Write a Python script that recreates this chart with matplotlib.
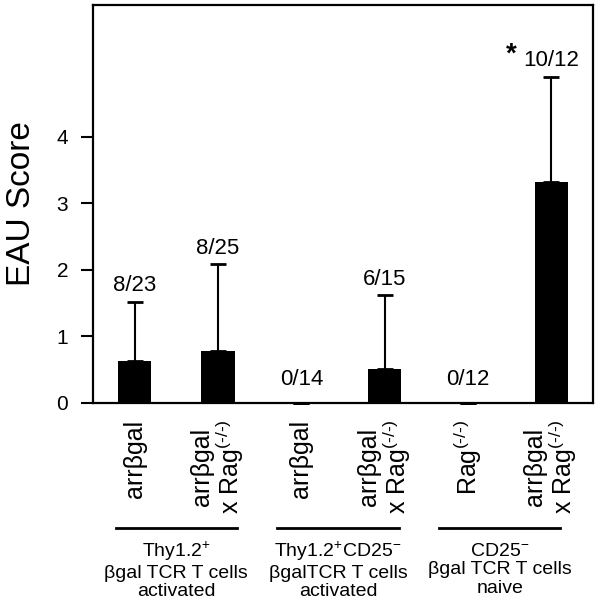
import matplotlib
matplotlib.use("Agg")
import matplotlib.pyplot as plt
from matplotlib.lines import Line2D

plt.rcParams['font.family'] = ['Liberation Sans', 'DejaVu Sans']
plt.rcParams['mathtext.default'] = 'regular'

# data
rag = 'Rag$^{(‐/‐)}$'
bar_labels = ['arrβgal', 'arrβgal\nx ' + rag, 'arrβgal',
              'arrβgal\nx ' + rag, rag, 'arrβgal\nx ' + rag]
eau_mean = [0.63, 0.78, 0.0, 0.51, 0.0, 3.32]
eau_err = [0.89, 1.30, 0.0, 1.11, 0.0, 1.58]
incidence = ['8/23', '8/25', '0/14', '6/15', '0/12', '10/12']
significant = [False, False, False, False, False, True]
group_labels = ['Thy1.2$^{+}$\nβgal TCR T cells\nactivated',
                'Thy1.2$^{+}$CD25$^{-}$\nβgalTCR T cells\nactivated',
                'CD25$^{-}$\nβgal TCR T cells\nnaive']

fig = plt.figure(figsize=(6.0, 6.05), dpi=100)
ax = fig.add_axes([0.155, 0.334, 0.8333, 0.658])

x = list(range(len(eau_mean)))
ax.bar(x, eau_mean, width=0.4, color='black')
eb = ax.errorbar(x, eau_mean, yerr=[[0] * len(eau_err), eau_err], fmt='none',
                 ecolor='black', elinewidth=1.5, capsize=6, capthick=2)
for cap in eb[1]:
    cap.set_zorder(3)
    cap.set_clip_on(False)

for xi, m, e, lab, sig in zip(x, eau_mean, eau_err, incidence, significant):
    top = m + e
    ax.text(xi, top + (0.08 if top > 0 else 0.2), lab, ha='center',
            va='bottom', fontsize=16)
    if sig:
        ax.text(xi - 0.48, top + 0.33, '*', ha='center', va='center',
                fontsize=20, fontweight='bold')

ax.set_xlim(-0.5, 5.5)
ax.set_ylim(0, 5.98)
ax.set_yticks([0, 1, 2, 3, 4])
ax.tick_params(axis='y', length=9, width=1.5, labelsize=15, pad=9, direction='out')
ax.set_xticks(x)
ax.set_xticklabels(bar_labels, rotation=90, fontsize=18, va='top', ha='center',
                   multialignment='center', linespacing=1.0)
ax.tick_params(axis='x', length=0, pad=12)
ax.set_ylabel('EAU Score', fontsize=24, labelpad=14)
for s in ax.spines.values():
    s.set_linewidth(1.6)

# group brackets below the tick labels
for g, glab in enumerate(group_labels):
    xc = (x[2 * g] + x[2 * g + 1]) / 2 - 0.06 * g
    fx = ax.transData.transform((xc, 0))[0]
    fxf = fig.transFigure.inverted().transform((fx, 0))[0]
    half = 0.73 * 83.3 / 600
    fig.add_artist(Line2D([fxf - half, fxf + half], [0.127, 0.127],
                          color='black', lw=2, transform=fig.transFigure))
    fig.text(fxf, 0.058, glab, ha='center', va='center', fontsize=14,
             linespacing=1.1)

fig.savefig('out.png', dpi=100)
